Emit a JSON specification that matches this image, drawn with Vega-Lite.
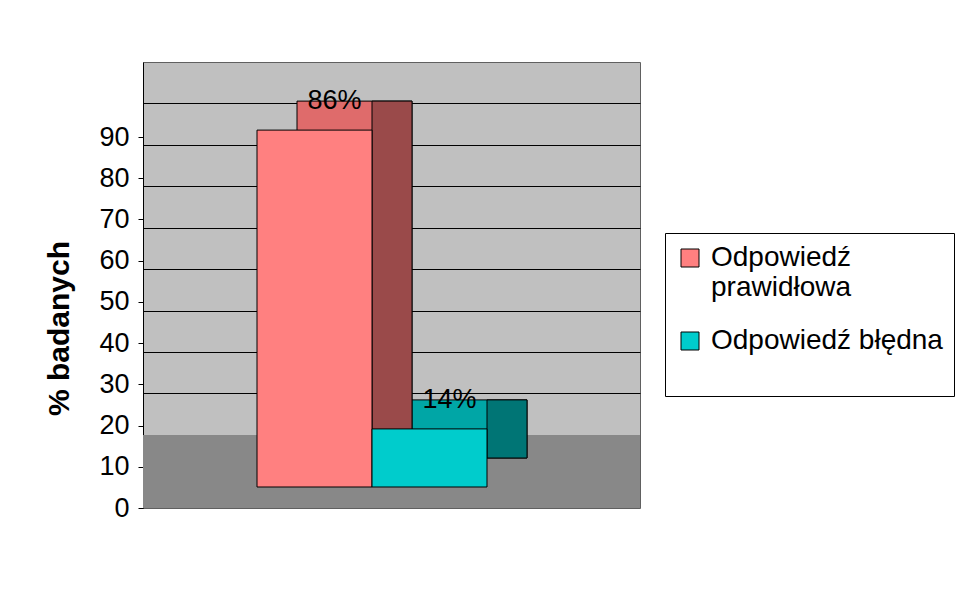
{
  "$schema": "https://vega.github.io/schema/vega-lite/v6.json",
  "width": 497,
  "height": 446,
  "autosize": {"type": "none"},
  "padding": {"left": 143, "top": 62, "right": 319, "bottom": 103},
  "background": "white",
  "config": {
    "font": "Liberation Sans",
    "view": {"fill": "#C0C0C0", "stroke": "#606060"}
  },
  "data": {
    "values": [
      {"kategoria": "Odpowiedź prawidłowa", "procent": 86, "etykieta": "86%"},
      {"kategoria": "Odpowiedź błędna", "procent": 14, "etykieta": "14%"}
    ]
  },
  "resolve": {"scale": {"y": "independent"}, "axis": {"y": "independent"}},
  "layer": [
    {
      "data": {"values": [{"podloga": 0}]},
      "mark": {"type": "rect", "color": "#888888"},
      "encoding": {
        "y": {
          "datum": -17.6,
          "type": "quantitative",
          "scale": {"domain": [-17.6, 89.9], "nice": false, "zero": false},
          "axis": {"orient": "right", "grid": true, "gridColor": "black", "gridWidth": 1, "gridOpacity": 1, "values": [10, 20, 30, 40, 50, 60, 70, 80], "labels": false, "ticks": false, "domain": false, "title": null}
        },
        "y2": {"datum": 0}
      }
    },
    {
      "mark": {"type": "point", "opacity": 0},
      "encoding": {
        "x": {"field": "kategoria", "type": "nominal", "sort": ["Odpowiedź prawidłowa", "Odpowiedź błędna"], "scale": {"range": [114, 344], "paddingInner": 0, "paddingOuter": 0}, "axis": null},
        "y": {
          "field": "procent",
          "type": "quantitative",
          "scale": {"domain": [0, 108.2], "nice": false, "zero": false},
          "axis": {"orient": "left", "values": [0, 10, 20, 30, 40, 50, 60, 70, 80, 90], "grid": false, "domainColor": "black", "tickColor": "black", "tickSize": 5, "labelFontSize": 27, "labelColor": "black", "labelPadding": 9, "title": "% badanych", "titleFontSize": 30, "titleFontWeight": "bold", "titleColor": "black", "titleX": -84, "titleY": 266, "titleBaseline": "middle", "titleAlign": "center", "titleAngle": 270}
        }
      }
    },
    {
      "mark": {"type": "bar", "xOffset": 40, "yOffset": -29, "y2Offset": -29, "stroke": "black", "strokeWidth": 1},
      "encoding": {
        "x": {"field": "kategoria", "type": "nominal", "sort": ["Odpowiedź prawidłowa", "Odpowiedź błędna"]},
        "y": {"field": "procent", "type": "quantitative", "scale": {"domain": [-5.06, 102.41], "nice": false, "zero": false}, "axis": null},
        "color": {"condition": {"test": "datum.kategoria === 'Odpowiedź prawidłowa'", "value": "#DF6B6B"}, "value": "#00A6A6"}
      }
    },
    {
      "mark": {"type": "bar", "width": 40, "xOffset": 77.5, "yOffset": -29, "y2Offset": -29, "stroke": "black", "strokeWidth": 1},
      "encoding": {
        "x": {"field": "kategoria", "type": "nominal", "sort": ["Odpowiedź prawidłowa", "Odpowiedź błędna"]},
        "y": {"field": "procent", "type": "quantitative", "scale": {"domain": [-5.06, 102.41], "nice": false, "zero": false}, "axis": null},
        "color": {"condition": {"test": "datum.kategoria === 'Odpowiedź prawidłowa'", "value": "#9A4A4A"}, "value": "#007575"}
      }
    },
    {
      "mark": {"type": "bar", "stroke": "black", "strokeWidth": 1},
      "encoding": {
        "x": {"field": "kategoria", "type": "nominal", "sort": ["Odpowiedź prawidłowa", "Odpowiedź błędna"]},
        "y": {"field": "procent", "type": "quantitative", "scale": {"domain": [-5.06, 102.41], "nice": false, "zero": false}, "axis": null},
        "color": {
          "field": "kategoria",
          "type": "nominal",
          "scale": {"domain": ["Odpowiedź prawidłowa", "Odpowiedź błędna"], "range": ["#FF8080", "#00CCCC"]},
          "legend": {
            "orient": "none", "legendX": 522, "legendY": 171,
            "title": " ", "titleOrient": "bottom", "titleFontSize": 20, "titlePadding": 10,
            "strokeColor": "black", "fillColor": "white", "padding": 11,
            "symbolType": "square", "symbolSize": 324, "symbolStrokeColor": "black", "symbolStrokeWidth": 1, "symbolOpacity": 1,
            "labelFontSize": 28, "labelColor": "black", "labelOffset": 7, "labelLimit": 400, "rowPadding": 25,
            "labelExpr": "datum.label == 'Odpowiedź prawidłowa' ? ['Odpowiedź', 'prawidłowa'] : datum.label"
          }
        }
      }
    },
    {
      "mark": {"type": "text", "dx": 20, "dy": -29, "baseline": "middle", "fontSize": 27, "color": "black"},
      "encoding": {
        "x": {"field": "kategoria", "type": "nominal", "sort": ["Odpowiedź prawidłowa", "Odpowiedź błędna"]},
        "y": {"field": "procent", "type": "quantitative", "scale": {"domain": [-5.06, 102.41], "nice": false, "zero": false}, "axis": null},
        "text": {"field": "etykieta"}
      }
    }
  ]
}
